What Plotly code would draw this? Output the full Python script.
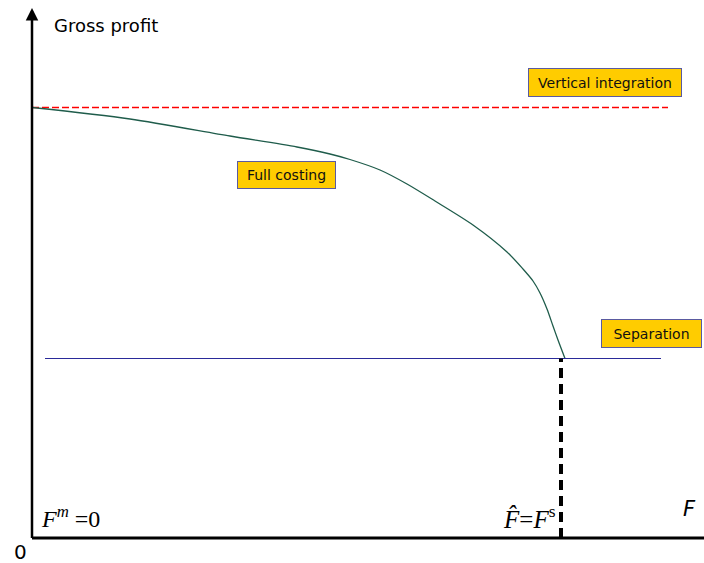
import plotly.graph_objects as go

# ---- data (F on x, gross profit on y; arbitrary units) ----
curve_F = [0, 98, 198, 265, 298, 318, 348, 375, 403, 441, 475, 491, 501, 508, 515, 521, 526, 533]
curve_profit = [430.5, 419, 402, 391, 384, 378.5, 368, 354, 337, 313, 286, 269, 257, 245, 229, 212, 198, 179.5]
vi_profit = 430.5          # vertical integration level
vi_F_end = 636
sep_profit = 179.5         # separation level
sep_F = [13, 629]
F_hat = 529

labels = ["Vertical integration", "Full costing", "Separation"]
label_F = [573, 254.5, 619.5]
label_profit = [455.5, 363, 204.5]
label_w = [152, 97, 99]
label_h = [27, 26, 27]

fig = go.Figure()

# vertical integration (red dashed)
fig.add_trace(go.Scatter(x=[0, vi_F_end], y=[vi_profit, vi_profit], mode="lines",
                         line=dict(color="#FF0000", width=1.5, dash="7px,3px"),
                         hoverinfo="skip"))
# full costing curve
fig.add_trace(go.Scatter(x=curve_F, y=curve_profit, mode="lines",
                         line=dict(color="#1F5C4B", width=1.3, shape="spline", smoothing=0.8),
                         hoverinfo="skip"))
# separation level
fig.add_trace(go.Scatter(x=sep_F, y=[sep_profit, sep_profit], mode="lines",
                         line=dict(color="#2A2A99", width=1),
                         hoverinfo="skip"))
# F hat vertical dashed
fig.add_trace(go.Scatter(x=[F_hat, F_hat], y=[0, sep_profit], mode="lines",
                         line=dict(color="#000000", width=4, dash="10px,6px"),
                         hoverinfo="skip"))

# axes
fig.add_shape(type="line", x0=0, y0=0, x1=672, y1=0, xref="x", yref="y",
              line=dict(color="black", width=3))
fig.add_annotation(x=0, y=530, ax=0, ay=-1.5, xref="x", yref="y", axref="x", ayref="y",
                   showarrow=True, arrowhead=2, arrowsize=1, arrowwidth=2.5,
                   arrowcolor="black", text="")

# label boxes
for t, fx, fy, w, h in zip(labels, label_F, label_profit, label_w, label_h):
    fig.add_annotation(x=fx, y=fy, xref="x", yref="y", text=t, showarrow=False,
                       width=w, height=h, bgcolor="#FFCC00", bordercolor="#5A5AA0",
                       borderwidth=1, borderpad=0,
                       font=dict(family="DejaVu Sans", size=14, color="#111111"))

# texts
fig.add_annotation(x=20, y=513, xref="x", yref="y", text="Gross profit", showarrow=False,
                   xanchor="left", font=dict(family="DejaVu Sans", size=18, color="black"))
fig.add_annotation(x=-12, y=-14, xref="x", yref="y", text="0", showarrow=False,
                   font=dict(family="DejaVu Sans", size=20, color="black"))
fig.add_annotation(x=657, y=29, xref="x", yref="y", text="<i>F</i>", showarrow=False,
                   font=dict(family="DejaVu Sans", size=21, color="black"))
fig.add_annotation(x=7, y=21, xref="x", yref="y", text="<i>F</i><sup><i>m</i></sup> =0",
                   showarrow=False, xanchor="left",
                   font=dict(family="Liberation Serif", size=24, color="black"))
fig.add_annotation(x=526, y=21, xref="x", yref="y", text="<i>F\u0302</i>=<i>F</i><sup>s</sup>",
                   showarrow=False, xanchor="right",
                   font=dict(family="Liberation Serif", size=25, color="black"))

fig.update_layout(
    width=704, height=563,
    margin=dict(l=0, r=0, t=0, b=0),
    paper_bgcolor="white", plot_bgcolor="white",
    showlegend=False,
    xaxis=dict(range=[-32, 672], visible=False, fixedrange=True),
    yaxis=dict(range=[-25, 538], visible=False, fixedrange=True),
)

fig.write_html("out.html", config={"displayModeBar": False},
               post_script="document.body.style.margin='0';document.body.style.overflow='hidden';")
